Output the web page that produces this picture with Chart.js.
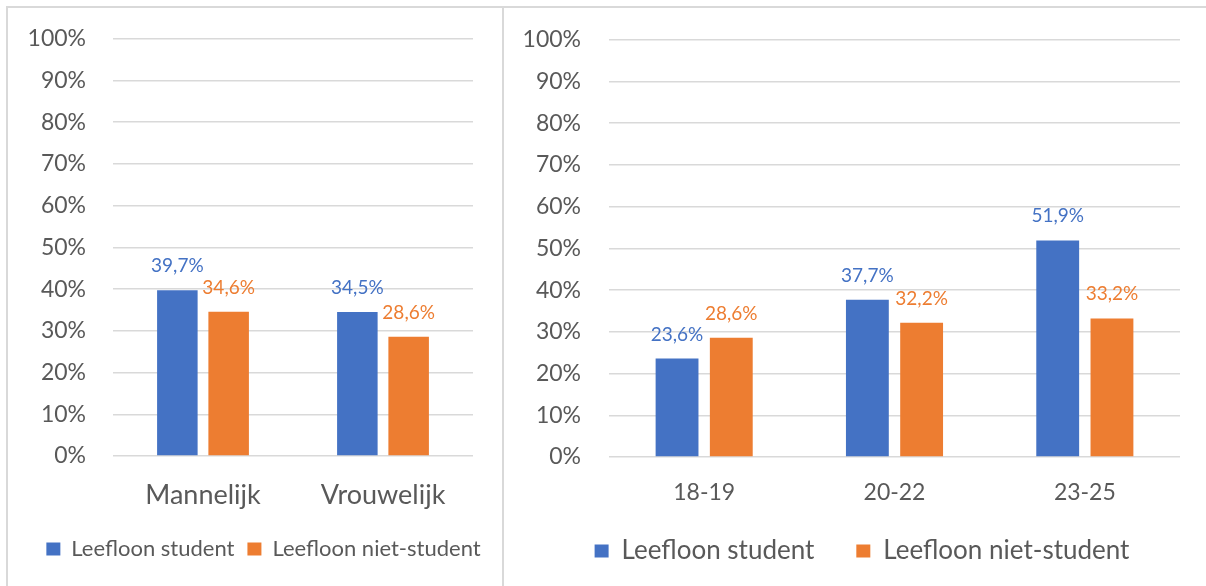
<!DOCTYPE html>
<html>
<head>
<meta charset="utf-8">
<script src="https://cdn.jsdelivr.net/npm/chart.js@4"></script>
<style>
  html, body { margin: 0; padding: 0; background: #fff; overflow: hidden; }
  .panel { position: absolute; top: 6px; border-top: 2px solid #d9d9d9; }
  #panelGender { left: 6px; width: 494px; height: 600px; border-left: 2px solid #d9d9d9; border-right: 2px solid #d9d9d9; }
  #panelAge { left: 504px; width: 702px; height: 600px; }
  canvas { position: absolute; left: 0; top: -10px; }
</style>
</head>
<body>
<div class="panel" id="panelGender"><canvas id="genderChart" width="494" height="588"></canvas></div>
<div class="panel" id="panelAge"><canvas id="ageChart" width="702" height="588"></canvas></div>
<script>
// reeksen
const seriesLabels = ['Leefloon student', 'Leefloon niet-student'];
const seriesColors = ['#4472C4', '#ED7D31'];

// geslacht
const genderCategories = ['Mannelijk', 'Vrouwelijk'];
const genderStudent = [39.7, 34.5];
const genderNonStudent = [34.6, 28.6];

// leeftijd
const ageCategories = ['18-19', '20-22', '23-25'];
const ageStudent = [23.6, 37.7, 51.9];
const ageNonStudent = [28.6, 32.2, 33.2];

// y-as: 0% .. 100% per 10
const yMin = 0, yMax = 100, yStep = 10;

const FONT = 'Lato, "Open Sans", sans-serif';
const TEXT = '#595959';
const GRID = '#d9d9d9';

const fmt = v => v.toFixed(1).replace('.', ',') + '%';

// waarde boven elke balk, in de kleur van de reeks
const valueLabels = {
  id: 'valueLabels',
  afterDatasetsDraw(chart, args, opts) {
    const ctx = chart.ctx;
    ctx.save();
    ctx.font = opts.size + 'px ' + FONT;
    ctx.textAlign = 'center';
    ctx.textBaseline = 'alphabetic';
    chart.data.datasets.forEach((ds, i) => {
      ctx.fillStyle = ds.backgroundColor;
      chart.getDatasetMeta(i).data.forEach((bar, j) => {
        ctx.fillText(fmt(ds.data[j]), bar.x, bar.y - opts.gap);
      });
    });
    ctx.restore();
  }
};

// legenda verschuiven na de layout (en niet laten afknippen)
const legendShift = {
  id: 'legendShift',
  afterLayout(chart, args, opts) {
    const lg = chart.legend;
    if (!lg) return;
    lg.left += opts.dx;
    lg.right += opts.dx;
    lg.top += opts.dy;
    lg.bottom = chart.height;
    lg.height = lg.bottom - lg.top;
  }
};

function makeChart(id, cats, student, nonStudent, s) {
  return new Chart(document.getElementById(id), {
    type: 'bar',
    data: {
      labels: cats,
      datasets: [
        { label: seriesLabels[0], data: student, backgroundColor: seriesColors[0] },
        { label: seriesLabels[1], data: nonStudent, backgroundColor: seriesColors[1] }
      ]
    },
    options: {
      responsive: false,
      animation: false,
      events: [],
      categoryPercentage: 0.57,
      barPercentage: 0.79,
      layout: { padding: { top: 20, right: s.padRight, bottom: s.padBottom, left: 0 } },
      scales: {
        x: {
          grid: { display: false, drawTicks: false },
          border: { display: false },
          ticks: { color: TEXT, font: { family: FONT, size: s.catSize }, padding: s.catPad },
          afterFit: a => { a.height = s.xHeight; }
        },
        y: {
          min: yMin,
          max: yMax,
          grid: { color: GRID, lineWidth: 1.5, drawTicks: false },
          border: { display: false },
          ticks: {
            stepSize: yStep,
            color: TEXT,
            font: { family: FONT, size: 23 },
            padding: s.tickPad,
            callback: v => v + '%'
          },
          afterFit: a => { a.width = 105; }
        }
      },
      plugins: {
        legend: {
          position: 'bottom',
          maxHeight: s.legendHeight,
          labels: {
            color: TEXT,
            font: { family: FONT, size: s.legendSize },
            boxWidth: 14,
            boxHeight: 13,
            padding: s.legendPad
          }
        },
        tooltip: { enabled: false },
        valueLabels: { size: 19, gap: 18 },
        legendShift: { dx: s.legendDx, dy: s.legendDy }
      }
    },
    plugins: [valueLabels, legendShift]
  });
}

makeChart('genderChart', genderCategories, genderStudent, genderNonStudent, {
  padRight: 29, padBottom: 20, xHeight: 65, catSize: 27, catPad: 23,
  tickPad: 27, legendSize: 22, legendPad: 13, legendHeight: 48, legendDx: 23, legendDy: 4
});

makeChart('ageChart', ageCategories, ageStudent, ageNonStudent, {
  padRight: 26, padBottom: 0, xHeight: 55, catSize: 23, catPad: 22,
  tickPad: 28, legendSize: 26, legendPad: 42, legendHeight: 74, legendDx: 20, legendDy: -16
});
</script>
</body>
</html>
